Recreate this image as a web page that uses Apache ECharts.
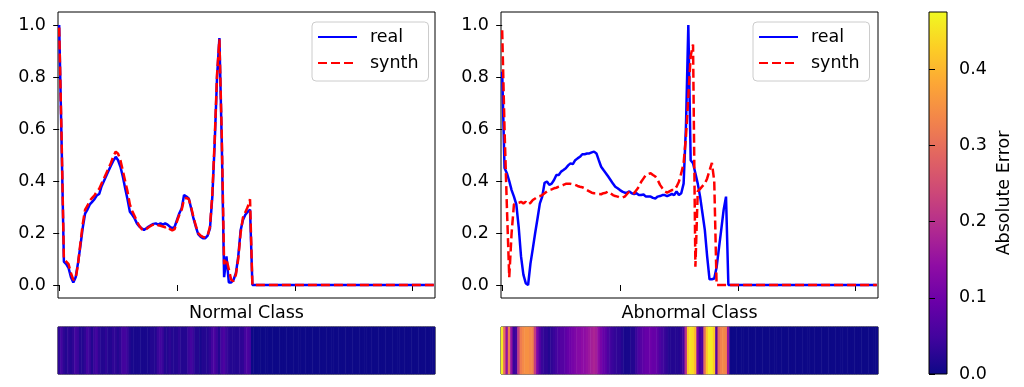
<!DOCTYPE html>
<html><head><meta charset="utf-8">
<script src="https://cdn.jsdelivr.net/npm/echarts@6/dist/echarts.min.js"></script>
<style>html,body{margin:0;padding:0;background:#fff}#c{width:1024px;height:387px}</style>
</head><body><div id="c"></div>
<script>
// ---------------- data ----------------
const N = 160; // samples per beat (tail is zero)
const classNames = ['Normal Class', 'Abnormal Class'];
const seriesNames = ['real', 'synth'];

const normalReal = [
  1.0, 0.56, 0.09, 0.08, 0.065, 0.03, 0.01, 0.03, 0.085, 0.15,
  0.22, 0.275, 0.29, 0.31, 0.32, 0.33, 0.345, 0.35, 0.38, 0.40,
  0.42, 0.44, 0.46, 0.478, 0.493, 0.48, 0.455, 0.417, 0.372, 0.33,
  0.282, 0.27, 0.256, 0.237, 0.225, 0.218, 0.212, 0.218, 0.225, 0.23,
  0.235, 0.237, 0.232, 0.237, 0.232, 0.237, 0.232, 0.224, 0.218, 0.224,
  0.25, 0.276, 0.295, 0.346, 0.34, 0.333, 0.295, 0.256, 0.224, 0.196,
  0.186, 0.18, 0.18, 0.19, 0.218, 0.34, 0.545, 0.80, 0.95, 0.55,
  0.03, 0.11, 0.01, 0.01, 0.02, 0.045, 0.11, 0.21, 0.25, 0.27,
  0.282, 0.29, 0
];
const normalSynth = [
  0.99, 0.58, 0.1, 0.09, 0.08, 0.045, 0.02, 0.025, 0.08, 0.16,
  0.235, 0.29, 0.305, 0.325, 0.335, 0.345, 0.36, 0.37, 0.39, 0.41,
  0.43, 0.45, 0.47, 0.495, 0.513, 0.505, 0.48, 0.44, 0.40, 0.36,
  0.31, 0.285, 0.265, 0.245, 0.228, 0.215, 0.21, 0.215, 0.222, 0.228,
  0.232, 0.235, 0.23, 0.228, 0.225, 0.222, 0.225, 0.215, 0.21, 0.215,
  0.245, 0.27, 0.29, 0.33, 0.335, 0.33, 0.30, 0.26, 0.228, 0.2,
  0.19, 0.185, 0.183, 0.19, 0.225, 0.35, 0.56, 0.81, 0.945, 0.58,
  0.08, 0.1, 0.06, 0.02, 0.015, 0.04, 0.1, 0.2, 0.26, 0.28,
  0.3, 0.33, 0
];
const abnormalReal = [
  0.82, 0.45, 0.43, 0.40, 0.365, 0.34, 0.31, 0.224, 0.11, 0.04,
  0.007, 0.0, 0.082, 0.14, 0.2, 0.256, 0.314, 0.34, 0.393, 0.398,
  0.385, 0.39, 0.404, 0.423, 0.423, 0.436, 0.442, 0.449, 0.46, 0.468,
  0.465, 0.48, 0.487, 0.493, 0.503, 0.503, 0.506, 0.506, 0.51, 0.513,
  0.506, 0.48, 0.455, 0.442, 0.43, 0.417, 0.404, 0.39, 0.378, 0.372,
  0.365, 0.359, 0.355, 0.355, 0.36, 0.353, 0.35, 0.353, 0.346, 0.346,
  0.348, 0.34, 0.34, 0.34, 0.335, 0.333, 0.34, 0.342, 0.346, 0.346,
  0.342, 0.346, 0.35, 0.346, 0.36, 0.346, 0.353, 0.39, 0.61, 1.0,
  0.48, 0.468, 0.43, 0.39, 0.34, 0.276, 0.212, 0.109, 0.022, 0.022,
  0.025, 0.068, 0.142, 0.215, 0.29, 0.34, 0
];
const abnormalSynth = [
  0.98, 0.6, 0.3, 0.03, 0.2, 0.31, 0.314, 0.316, 0.32, 0.314,
  0.32, 0.31, 0.316, 0.327, 0.333, 0.34, 0.342, 0.346, 0.353, 0.36,
  0.365, 0.368, 0.372, 0.374, 0.378, 0.381, 0.385, 0.389, 0.389, 0.389,
  0.387, 0.385, 0.381, 0.378, 0.376, 0.372, 0.365, 0.36, 0.355, 0.353,
  0.353, 0.35, 0.349, 0.353, 0.355, 0.36, 0.353, 0.346, 0.342, 0.34,
  0.336, 0.336, 0.34, 0.35, 0.36, 0.355, 0.353, 0.365, 0.378, 0.397,
  0.41, 0.423, 0.427, 0.43, 0.423, 0.417, 0.404, 0.385, 0.372, 0.36,
  0.355, 0.36, 0.365, 0.365, 0.378, 0.397, 0.43, 0.468, 0.57, 0.724,
  0.88, 0.925, 0.07, 0.36, 0.37, 0.38, 0.39, 0.41, 0.44, 0.47,
  0.4, 0
];
// absolute error strips
const normalError = [
  0.03, 0.05, 0.03, 0.02, 0.03, 0.02, 0.03, 0.05, 0.04, 0.02,
  0.02, 0.03, 0.05, 0.04, 0.02, 0.04, 0.05, 0.03, 0.02, 0.02,
  0.03, 0.02, 0.02, 0.03, 0.03, 0.02, 0.03, 0.05, 0.05, 0.04,
  0.02, 0.01, 0.01, 0.01, 0.01, 0.01, 0.01, 0.01, 0.01, 0.02,
  0.02, 0.02, 0.04, 0.05, 0.04, 0.02, 0.02, 0.03, 0.02, 0.02,
  0.02, 0.03, 0.02, 0.02, 0.02, 0.04, 0.05, 0.04, 0.02, 0.02,
  0.01, 0.02, 0.02, 0.02, 0.03, 0.05, 0.06, 0.04, 0.02, 0.05,
  0.06, 0.04, 0.03, 0.02, 0.02, 0.02, 0.02, 0.03, 0.03, 0.05,
  0.06, 0.05, 0
];
const abnormalError = [
  0.46, 0.3, 0.15, 0.32, 0.15, 0.04, 0.05, 0.22, 0.32, 0.34,
  0.35, 0.35, 0.34, 0.33, 0.22, 0.12, 0.07, 0.04, 0.03, 0.03,
  0.02, 0.03, 0.04, 0.05, 0.06, 0.07, 0.07, 0.08, 0.09, 0.10,
  0.11, 0.12, 0.13, 0.13, 0.14, 0.14, 0.15, 0.16, 0.17, 0.18,
  0.17, 0.14, 0.11, 0.09, 0.08, 0.06, 0.05, 0.04, 0.035, 0.03,
  0.03, 0.02, 0.01, 0.01, 0.01, 0.02, 0.02, 0.04, 0.06, 0.07,
  0.08, 0.09, 0.09, 0.1, 0.09, 0.09, 0.08, 0.06, 0.05, 0.04,
  0.03, 0.02, 0.02, 0.02, 0.02, 0.02, 0.03, 0.05, 0.2, 0.42,
  0.45, 0.44, 0.4, 0.12, 0.05, 0.06, 0.3, 0.42, 0.46, 0.46,
  0.42, 0.07, 0.3, 0.33, 0.34, 0.33, 0.15, 0
];

const xTicks = [0, 50, 100, 150];
const yTicks = [0, 0.2, 0.4, 0.6, 0.8, 1.0];
const cbarTicks = [0, 0.1, 0.2, 0.3, 0.4];
const errorMax = 0.475;
const cbarLabel = 'Absolute Error';
const plasma = ['#0d0887', '#41049d', '#6a00a8', '#8f0da4', '#b12a90', '#cc4778',
                '#e16462', '#f2844b', '#fca636', '#fcce25', '#f0f921'];

// ---------------- helpers ----------------
const FONT = 'DejaVu Sans';
function padZeros(a) { const o = a.slice(); while (o.length < N) o.push(0); return o; }
function toXY(a) { return padZeros(a).map((v, i) => [i, v]); }
function toCells(a) { return padZeros(a).map((v, i) => [i, 0, v]); }
const idx = Array.from({length: N}, (_, i) => String(i));

const frame = {show: true, borderColor: '#000', borderWidth: 1, backgroundColor: 'transparent'};
const lineLeft = [58, 501];

const grids = [
  Object.assign({left: lineLeft[0], top: 12, width: 377, height: 286}, frame),
  Object.assign({left: lineLeft[1], top: 12, width: 377, height: 286}, frame),
  Object.assign({left: lineLeft[0], top: 327, width: 377, height: 47}, frame),
  Object.assign({left: lineLeft[1], top: 327, width: 377, height: 47}, frame),
  {show: true, left: 929, top: 12, width: 18, height: 362, borderColor: '#000', borderWidth: 1,
   backgroundColor: {type: 'linear', x: 0, y: 1, x2: 0, y2: 0,
     colorStops: plasma.map((c, i) => ({offset: i / (plasma.length - 1), color: c}))}}
];

const tickStyle = {lineStyle: {color: '#000', width: 1}};
const labelStyle = {fontSize: 17.5, color: '#000', fontFamily: FONT};

const xAxes = [], yAxes = [];
[0, 1].forEach(k => {
  xAxes.push({gridIndex: k, type: 'value', min: -0.5, max: N - 0.5,
    axisLine: {show: false}, splitLine: {show: false},
    axisTick: Object.assign({show: true, length: 6, customValues: xTicks}, tickStyle),
    axisLabel: {show: false, customValues: xTicks},
    name: classNames[k], nameLocation: 'middle', nameGap: 15,
    nameTextStyle: Object.assign({verticalAlign: 'middle'}, labelStyle)});
  yAxes.push({gridIndex: k, type: 'value', min: -0.05, max: 1.05,
    axisLine: {show: false}, splitLine: {show: false},
    axisTick: Object.assign({show: true, length: 6, customValues: yTicks}, tickStyle),
    axisLabel: Object.assign({customValues: yTicks, margin: 12, formatter: v => v.toFixed(1)}, labelStyle)});
});
[2, 3].forEach(g => {
  xAxes.push({gridIndex: g, type: 'category', data: idx, show: false});
  yAxes.push({gridIndex: g, type: 'category', data: [''], show: false});
});
xAxes.push({gridIndex: 4, type: 'value', min: 0, max: 1, show: false});
yAxes.push({gridIndex: 4, type: 'value', position: 'right', min: 0, max: errorMax,
  axisLine: {show: false}, splitLine: {show: false},
  axisTick: Object.assign({show: true, length: 6, customValues: cbarTicks}, tickStyle),
  axisLabel: Object.assign({customValues: cbarTicks, margin: 12, formatter: v => v.toFixed(1)}, labelStyle),
  name: cbarLabel, nameLocation: 'middle', nameRotate: 90, nameGap: 48,
  nameTextStyle: labelStyle});

const lineSeries = (name, data, axis, color, dashed) => ({
  type: 'line', name, data: toXY(data), xAxisIndex: axis, yAxisIndex: axis,
  symbol: 'none', showSymbol: false, smooth: false, animation: false,
  lineStyle: {color, width: 2.5, type: dashed ? [9, 4] : 'solid'},
  itemStyle: {color}
});

const series = [
  lineSeries(seriesNames[0], normalReal, 0, '#0000ff', false),
  lineSeries(seriesNames[1], normalSynth, 0, '#ff0000', true),
  lineSeries(seriesNames[0], abnormalReal, 1, '#0000ff', false),
  lineSeries(seriesNames[1], abnormalSynth, 1, '#ff0000', true),
  {type: 'heatmap', data: toCells(normalError), xAxisIndex: 2, yAxisIndex: 2, animation: false, progressive: 0},
  {type: 'heatmap', data: toCells(abnormalError), xAxisIndex: 3, yAxisIndex: 3, animation: false, progressive: 0}
];

const legendBase = {
  top: 22, orient: 'vertical', data: seriesNames, itemWidth: 39, itemHeight: 17, itemGap: 8,
  padding: [6, 10, 9, 5], backgroundColor: 'rgba(255,255,255,0.8)', borderColor: '#cccccc',
  borderWidth: 1, borderRadius: 4, selectedMode: false,
  itemStyle: {opacity: 0},
  textStyle: Object.assign({padding: [0, 0, 0, 8], lineHeight: 17}, labelStyle)
};

const chart = echarts.init(document.getElementById('c'), null, {renderer: 'canvas'});
chart.setOption({
  backgroundColor: '#fff',
  animation: false,
  textStyle: {fontFamily: FONT},
  grid: grids,
  xAxis: xAxes,
  yAxis: yAxes,
  legend: [Object.assign({left: 312}, legendBase), Object.assign({left: 753}, legendBase)],
  visualMap: {show: false, type: 'continuous', min: 0, max: errorMax, dimension: 2,
    seriesIndex: [4, 5], inRange: {color: plasma}},
  series
});
</script></body></html>
